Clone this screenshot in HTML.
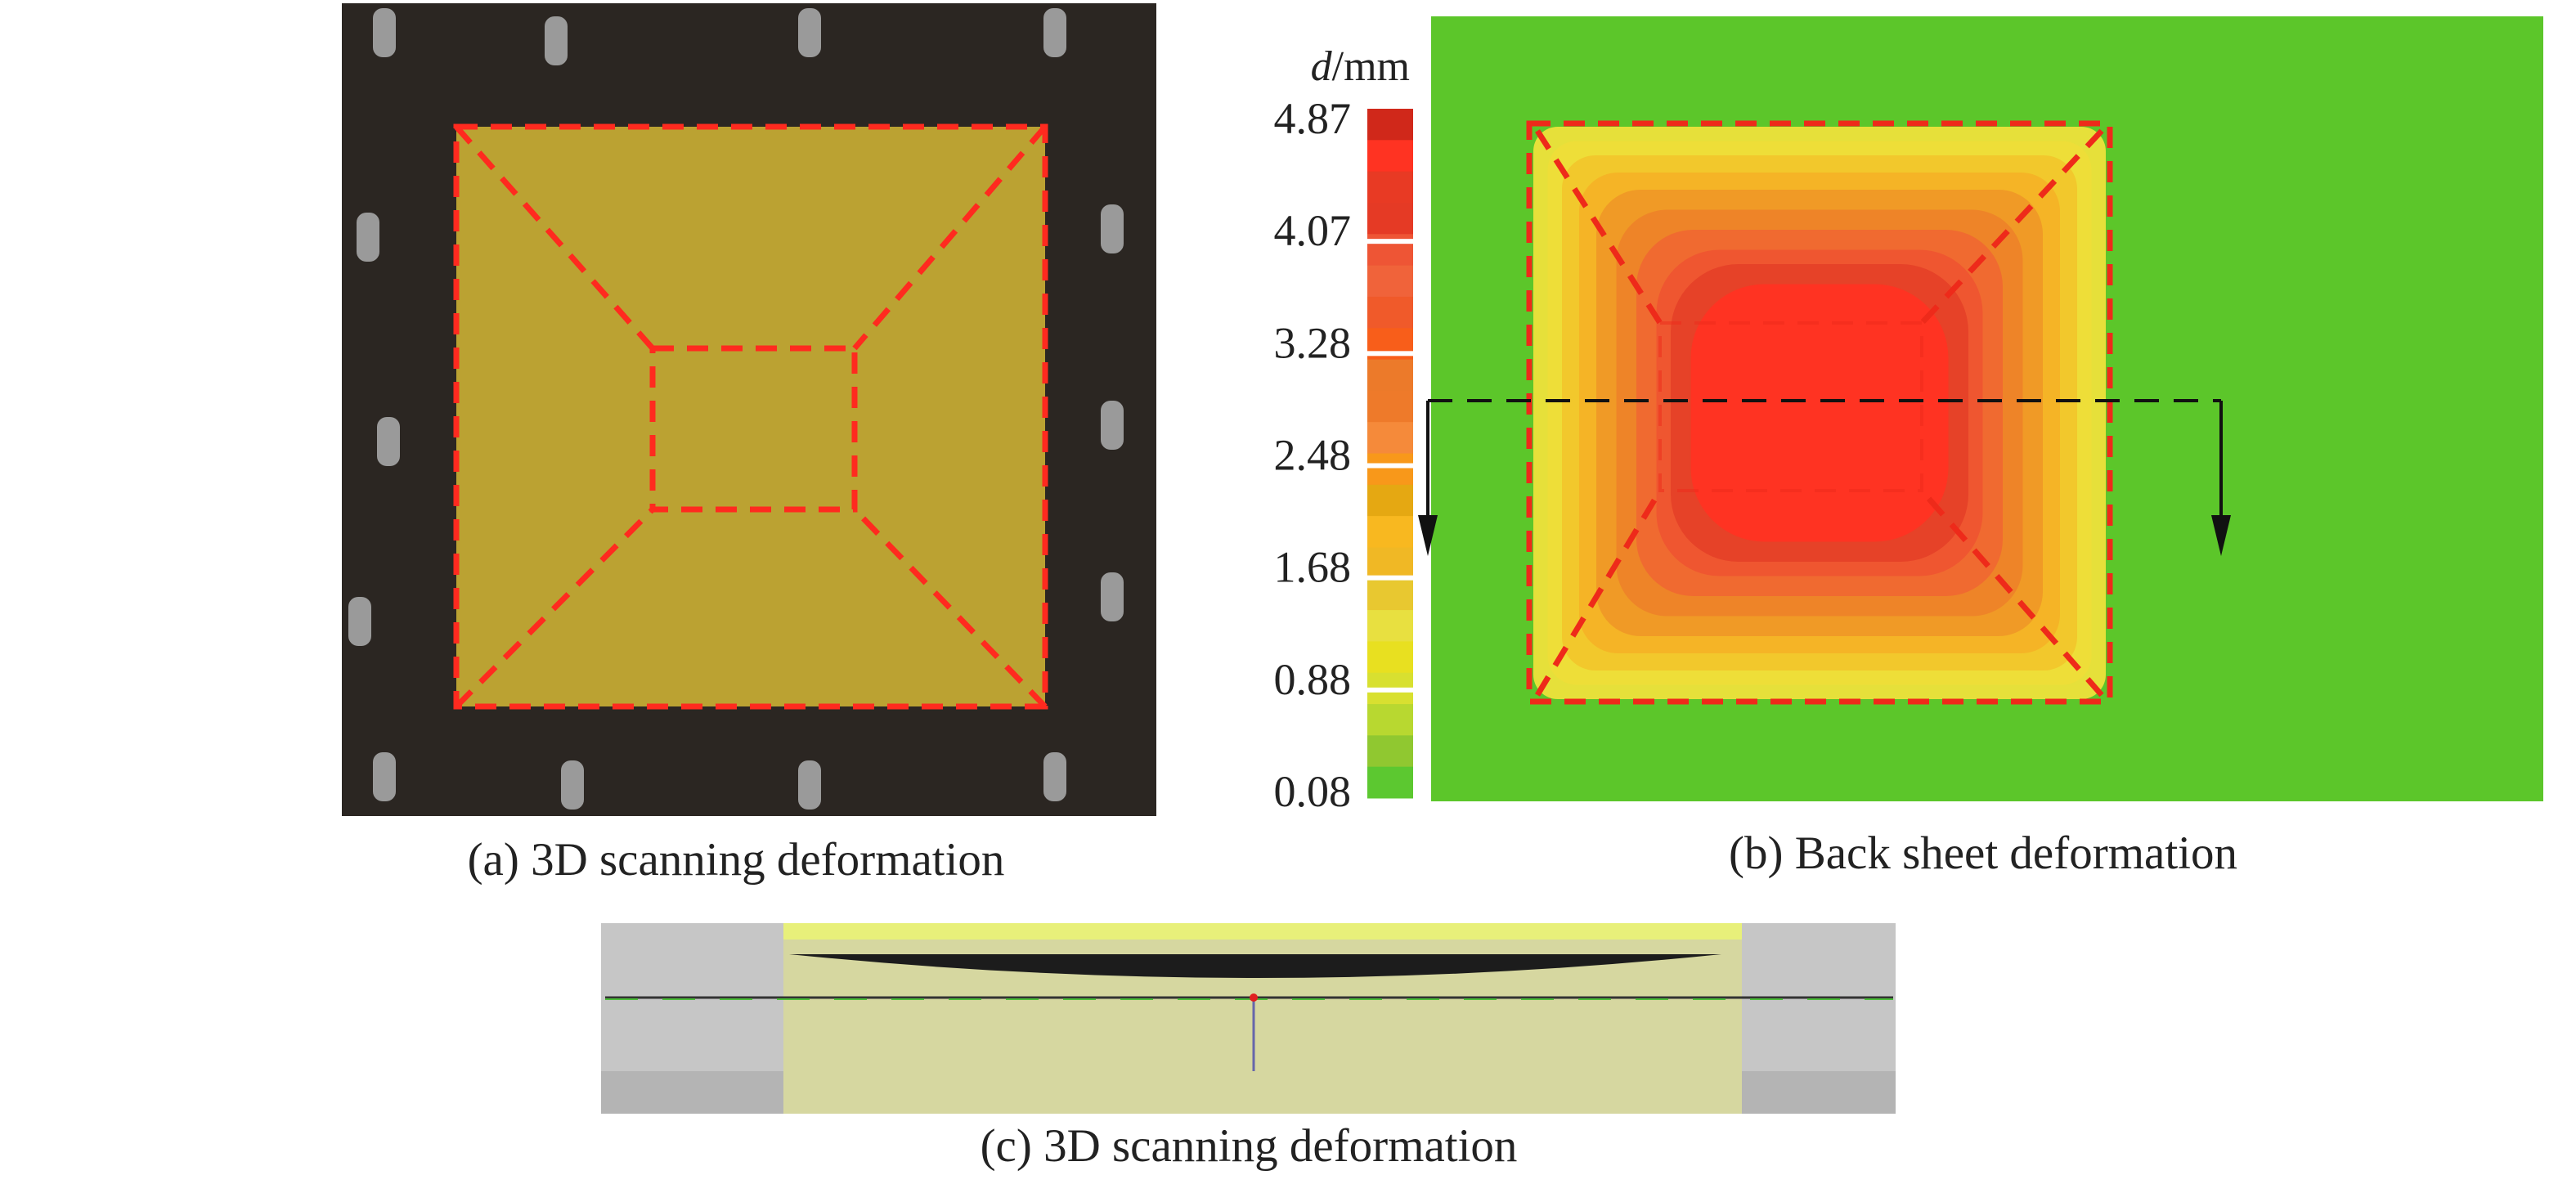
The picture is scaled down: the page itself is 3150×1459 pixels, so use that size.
<!DOCTYPE html>
<html><head><meta charset="utf-8"><style>
body{margin:0;background:#fff}
svg{display:block}
text{font-family:"Liberation Serif",serif;fill:#222}
</style></head><body>
<svg id="fig" width="3150" height="1459" viewBox="0 0 3150 1459">
<rect width="3150" height="1459" fill="#fff"/>
<!-- Panel a -->
<g>
<rect x="418" y="4" width="996" height="994" fill="#2b2622"/>
<rect x="558" y="155" width="720" height="709" fill="#bba232"/>
<g id="pins" fill="#9a9a9a"></g>
<g fill="none" stroke="#ff2a1f" stroke-width="7" stroke-dasharray="26,16">
<rect x="558" y="155" width="720" height="709"/>
<rect x="798" y="426" width="247" height="197"/>
<line x1="558" y1="155" x2="798" y2="426"/><line x1="1278" y1="155" x2="1045" y2="426"/>
<line x1="558" y1="864" x2="798" y2="623"/><line x1="1278" y1="864" x2="1045" y2="623"/>
</g>
</g>
<text x="900" y="1070" font-size="57" text-anchor="middle">(a) 3D scanning deformation</text>

<!-- Panel b -->
<g id="heat">
<rect x="1750" y="20" width="1360" height="960" fill="#5cc62a"/>
</g>
<g id="cbar"></g>
<text x="1724" y="98" font-size="52" text-anchor="end"><tspan font-style="italic">d</tspan>/mm</text>
<text x="2425" y="1062" font-size="57" text-anchor="middle">(b) Back sheet deformation</text>

<!-- Panel c -->
<g>
<rect x="735" y="1129" width="1583" height="233" fill="#c6c6c6"/>
<rect x="735" y="1310" width="1583" height="52" fill="#b4b4b4"/>
<rect x="958" y="1129" width="1172" height="233" fill="#d6d7a0"/>
<rect x="958" y="1129" width="1172" height="20" fill="#e8f07a"/>
<path d="M965 1167 Q1540 1225 2105 1167 Z" fill="#1c1c1c"/>
<line x1="740" y1="1220" x2="2315" y2="1220" stroke="#333" stroke-width="3"/>
<line x1="740" y1="1222" x2="2315" y2="1222" stroke="#4cbc3a" stroke-width="2" stroke-dasharray="40,30"/>
<line x1="1533" y1="1220" x2="1533" y2="1310" stroke="#6666aa" stroke-width="3"/>
<circle cx="1533" cy="1220" r="5" fill="#e02020"/>
</g>
<text x="1527" y="1420" font-size="57" text-anchor="middle">(c) 3D scanning deformation</text>
</svg>
<script>
const NS="http://www.w3.org/2000/svg";
const tickLabels=["4.87","4.07","3.28","2.48","1.68","0.88","0.08"];
const bandColors=["#d0281a","#ff3322","#e83a24","#e53a25","#ee5535","#f0633a","#f05a2a","#f85e1a","#ec7a2a","#ee7a2a","#f58a3a","#f8981a","#e5a812","#f8b820","#f0b825","#e8c830","#e8e040","#e8e020","#d8e030","#b8d830","#90c830","#5cc830"];
const contourColors=["#e6e03a","#eede38","#f2c82c","#f5b426","#f09a26","#ee8428","#f06a30","#ef5630","#e64228","#ff3322"];
const contourInset=[0,0.05,0.1,0.16,0.22,0.29,0.36,0.43,0.48,0.55];

const cb=document.getElementById('cbar');
const cbTop=133,cbBot=976,cbX=1672,cbW=56;
const bh=(cbBot-cbTop)/bandColors.length;
bandColors.forEach((c,i)=>{
 const r=document.createElementNS(NS,'rect');
 r.setAttribute('x',cbX);r.setAttribute('y',cbTop+i*bh);r.setAttribute('width',cbW);r.setAttribute('height',bh+0.5);r.setAttribute('fill',c);
 
 
 cb.appendChild(r);
});
const ty=v=>cbTop+12+v*(cbBot-cbTop-20)/(tickLabels.length-1);
tickLabels.forEach((t,i)=>{
 if(i>0&&i<tickLabels.length-1){
  const g=document.createElementNS(NS,'rect');
  g.setAttribute('x',cbX);g.setAttribute('y',ty(i)+10);g.setAttribute('width',cbW);g.setAttribute('height',6);g.setAttribute('fill','#fff');
  
  
  cb.appendChild(g);
 }
 const tx=document.createElementNS(NS,'text');
 tx.setAttribute('x',1652);tx.setAttribute('y',ty(i)+18);tx.setAttribute('font-size','54');tx.setAttribute('text-anchor','end');
 tx.textContent=t;
 
 
 cb.appendChild(tx);
});
const heat=document.getElementById('heat');
const X0=1875,X1=2575,Y0=155,Y1=855,cx=(X0+X1)/2,cy=(Y0+Y1)/2;
contourColors.forEach((c,i)=>{
 const f=contourInset[i];
 const x=X0+f*(cx-X0),y=Y0+f*(cy-Y0),w=(X1-X0)*(1-f),h=(Y1-Y0)*(1-f);
 const r=document.createElementNS(NS,'rect');
 r.setAttribute('x',x);r.setAttribute('y',y);r.setAttribute('width',w);r.setAttribute('height',h);
 r.setAttribute('rx',30+f*110);r.setAttribute('fill',c);
 
 
 heat.appendChild(r);
});
heat.insertAdjacentHTML('beforeend',`
<g fill="none" stroke="#ee2a1a" stroke-width="7" stroke-dasharray="26,16">
<rect x="1870" y="151" width="710" height="707"/>
<rect x="2030" y="395" width="320" height="205" stroke-width="4" opacity="0.5"/>
<line x1="1880" y1="160" x2="2030" y2="395"/><line x1="2570" y1="160" x2="2350" y2="395"/>
<line x1="1880" y1="850" x2="2030" y2="600"/><line x1="2570" y1="850" x2="2350" y2="600"/>
</g>
<line x1="1746" y1="490" x2="2716" y2="490" stroke="#111" stroke-width="4" stroke-dasharray="30,18"/>
<line x1="1746" y1="490" x2="1746" y2="640" stroke="#111" stroke-width="4"/>
<polygon points="1734,630 1758,630 1746,680" fill="#111"/>
<line x1="2716" y1="490" x2="2716" y2="640" stroke="#111" stroke-width="4"/>
<polygon points="2704,630 2728,630 2716,680" fill="#111"/>`);
const pins=document.getElementById('pins');
const pinPos=[[470,40],[680,50],[990,40],[1290,40],[475,540],[440,760],[1360,280],[1360,520],[1360,730],[470,950],[700,960],[990,960],[1290,950],[450,290]];
pinPos.forEach(p=>{
 const e=document.createElementNS(NS,'rect');
 e.setAttribute('x',p[0]-14);e.setAttribute('y',p[1]-30);e.setAttribute('width',28);e.setAttribute('height',60);e.setAttribute('rx',12);
 
 
 pins.appendChild(e);
});
</script>
</body></html>
